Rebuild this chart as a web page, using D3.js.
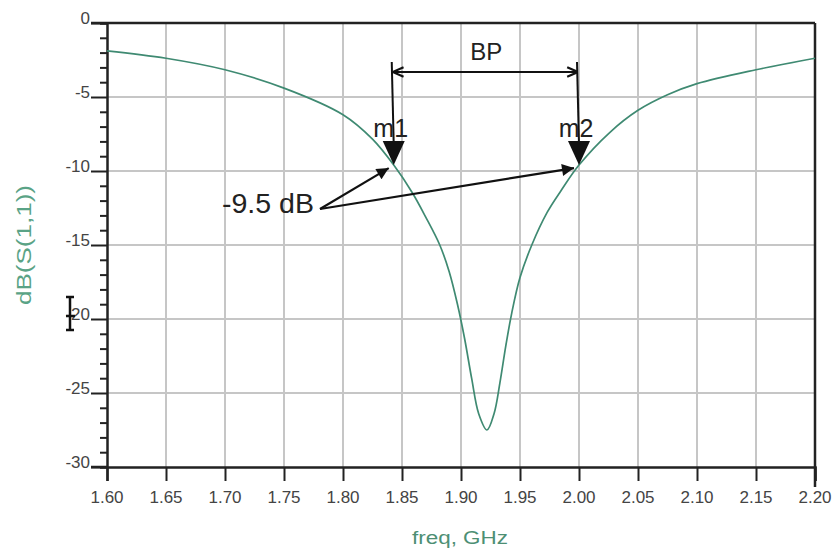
<!DOCTYPE html>
<html>
<head>
<meta charset="utf-8">
<script src="https://cdn.jsdelivr.net/npm/d3@7"></script>
<style>
  body { margin: 0; background: #fff; }
  svg text { font-family: "Liberation Sans", Arial, sans-serif; }
</style>
</head>
<body>
<div id="chart"></div>
<script>
// S11 sweep
const freq = [1.60, 1.65, 1.70, 1.75, 1.80, 1.825, 1.843, 1.859, 1.87, 1.882,
              1.890, 1.897, 1.903, 1.909, 1.915, 1.922, 1.928, 1.933, 1.938, 1.943, 1.950,
              1.960, 1.973, 1.985, 2.000, 2.026, 2.05, 2.075, 2.10, 2.15, 2.20];
const s11 = [-1.88, -2.38, -3.16, -4.4, -6.2, -7.85, -9.6, -11.5, -13.1, -15.0,
             -16.8, -19.0, -21.3, -24.0, -26.4, -27.5, -26.4, -24.3, -21.8, -19.6, -17.2,
             -15.0, -12.8, -11.3, -9.6, -7.4, -5.9, -4.85, -4.1, -3.16, -2.38];

const xTicks = [1.60, 1.65, 1.70, 1.75, 1.80, 1.85, 1.90, 1.95, 2.00, 2.05, 2.10, 2.15, 2.20];
const yTicks = [0, -5, -10, -15, -20, -25, -30];

const markerNames = ["m1", "m2"];
const markerFreq = [1.843, 2.000];
const markerDb = [-9.6, -9.6];

const W = 833, H = 555;
const x = d3.scaleLinear().domain([1.6, 2.2]).range([107, 815]);
const y = d3.scaleLinear().domain([-30, 0]).range([467, 23]);

const svg = d3.select("#chart").append("svg")
    .attr("width", W).attr("height", H);

const defs = svg.append("defs");
defs.append("marker")
    .attr("id", "solidBig").attr("viewBox", "0 0 10 10")
    .attr("refX", 10).attr("refY", 5)
    .attr("markerWidth", 16).attr("markerHeight", 12)
    .attr("markerUnits", "userSpaceOnUse")
    .attr("orient", "auto")
    .append("path").attr("d", "M0,0 L10,5 L0,10 Z").attr("fill", "#111");
defs.append("marker")
    .attr("id", "open").attr("viewBox", "0 0 10 10")
    .attr("refX", 10).attr("refY", 5)
    .attr("markerWidth", 12).attr("markerHeight", 12)
    .attr("markerUnits", "userSpaceOnUse")
    .attr("orient", "auto-start-reverse")
    .append("path").attr("d", "M1,1 L10,5 L1,9").attr("fill", "none")
    .attr("stroke", "#111").attr("stroke-width", 1.8);

// grid
svg.append("g").selectAll("line")
    .data(xTicks.slice(1, -1)).join("line")
    .attr("x1", d => x(d)).attr("x2", d => x(d))
    .attr("y1", y(0)).attr("y2", y(-30))
    .attr("stroke", "#c6c6c6").attr("stroke-width", 2);
svg.append("g").selectAll("line")
    .data(yTicks.slice(1, -1)).join("line")
    .attr("x1", x(1.6)).attr("x2", x(2.2))
    .attr("y1", d => y(d)).attr("y2", d => y(d))
    .attr("stroke", "#c6c6c6").attr("stroke-width", 2);

// y axis with minor ticks
const yAxis = svg.append("g").attr("transform", `translate(${x(1.6)},0)`);
yAxis.call(d3.axisLeft(y).tickValues(d3.range(-30, 0.5, 1)).tickSize(7).tickFormat(""));
yAxis.selectAll(".tick line").attr("stroke", "#222").attr("stroke-width", 2);
yAxis.selectAll(".tick").filter(d => d % 5 === 0).select("line").attr("x2", -16);
yAxis.select(".domain").attr("stroke", "#222").attr("stroke-width", 2.5);
yAxis.selectAll(".ylab").data(yTicks).join("text")
    .attr("class", "ylab")
    .attr("x", -17).attr("y", d => y(d) - 3)
    .attr("text-anchor", "end").attr("dominant-baseline", "middle")
    .attr("font-size", 17).attr("fill", "#444")
    .text(d => d);

// x axis
const xAxis = svg.append("g").attr("transform", `translate(0,${y(-30)})`);
xAxis.call(d3.axisBottom(x).tickValues(xTicks).tickSize(14).tickFormat(""));
xAxis.selectAll(".tick line").attr("stroke", "#222").attr("stroke-width", 2);
xAxis.select(".domain").attr("stroke", "#222").attr("stroke-width", 2.5);
xAxis.selectAll(".xlab").data(xTicks).join("text")
    .attr("class", "xlab")
    .attr("x", d => x(d)).attr("y", 36)
    .attr("text-anchor", "middle")
    .attr("font-size", 17).attr("fill", "#444")
    .text(d => d.toFixed(2));

// extend top/bottom borders out like the major ticks, and right border
svg.append("line").attr("x1", x(1.6) - 16).attr("x2", x(2.2))
    .attr("y1", y(0)).attr("y2", y(0)).attr("stroke", "#222").attr("stroke-width", 2.5);
svg.append("line").attr("x1", x(1.6) - 16).attr("x2", x(1.6))
    .attr("y1", y(-30)).attr("y2", y(-30)).attr("stroke", "#222").attr("stroke-width", 2.5);
svg.append("line").attr("x1", x(2.2)).attr("x2", x(2.2))
    .attr("y1", y(0)).attr("y2", y(-30) + 20).attr("stroke", "#222").attr("stroke-width", 2.5);

// axis titles
svg.append("text")
    .attr("transform", `translate(31,${(y(0) + y(-30)) / 2}) rotate(-90)`)
    .attr("text-anchor", "middle")
    .attr("font-size", 20).attr("fill", "#5aa386")
    .attr("textLength", 120).attr("lengthAdjust", "spacingAndGlyphs")
    .text("dB(S(1,1))");
svg.append("text")
    .attr("x", 460).attr("y", 544)
    .attr("text-anchor", "middle")
    .attr("font-size", 18).attr("fill", "#4d8f74")
    .attr("textLength", 96).attr("lengthAdjust", "spacingAndGlyphs")
    .text("freq, GHz");

// the S11 trace
const pts = freq.map((f, i) => [f, s11[i]]);
svg.append("path")
    .datum(pts)
    .attr("fill", "none")
    .attr("stroke", "#3f8a72").attr("stroke-width", 1.7)
    .attr("d", d3.line().x(d => x(d[0])).y(d => y(d[1])).curve(d3.curveCatmullRom.alpha(0.5)));

// markers m1 / m2
const mk = svg.append("g");
markerFreq.forEach((f, i) => {
    const px = x(f), py = y(markerDb[i]);
    mk.append("line").attr("x1", px - 2).attr("y1", 62).attr("x2", px).attr("y2", py - 20)
        .attr("stroke", "#111").attr("stroke-width", 2);
    mk.append("path")
        .attr("d", `M${px - 11},${py - 24} L${px + 11},${py - 24} L${px},${py} Z`)
        .attr("fill", "#111");
    mk.append("text")
        .attr("x", px - 3).attr("y", py - 28)
        .attr("text-anchor", "middle")
        .attr("font-size", 25).attr("fill", "#222")
        .text(markerNames[i]);
});

// BP double arrow
svg.append("line")
    .attr("x1", x(markerFreq[0]) - 1).attr("x2", x(markerFreq[1]) - 1)
    .attr("y1", 72).attr("y2", 72)
    .attr("stroke", "#111").attr("stroke-width", 2)
    .attr("marker-start", "url(#open)").attr("marker-end", "url(#open)");
svg.append("text")
    .attr("x", (x(markerFreq[0]) + x(markerFreq[1])) / 2).attr("y", 60)
    .attr("text-anchor", "middle")
    .attr("font-size", 24).attr("fill", "#222")
    .text("BP");

// -9.5 dB callout
svg.append("text")
    .attr("x", 222).attr("y", 213)
    .attr("font-size", 28).attr("fill", "#222")
    .attr("textLength", 92).attr("lengthAdjust", "spacingAndGlyphs")
    .text("-9.5 dB");
markerFreq.forEach((f, i) => {
    svg.append("line")
        .attr("x1", 320).attr("y1", 209)
        .attr("x2", x(f) - 5).attr("y2", y(markerDb[i]) + 3)
        .attr("stroke", "#111").attr("stroke-width", 2.2)
        .attr("marker-end", "url(#solidBig)");
});

// stray cursor mark on the -20 label
svg.append("path")
    .attr("d", "M70,297 L70,330 M66,297 L74,297 M66,330 L74,330 M66,316 L75,316")
    .attr("stroke", "#111").attr("stroke-width", 2.5).attr("fill", "none");
</script>
</body>
</html>
